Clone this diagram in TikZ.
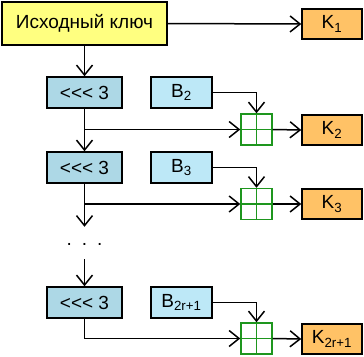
\documentclass[tikz,border=0pt]{standalone}
\usepackage{fontspec}
\setmainfont{Liberation Sans}[Ligatures=TeXOff]
\usetikzlibrary{arrows.meta}

\definecolor{srcyellow}{HTML}{FFFF80}
\definecolor{rotblue}{HTML}{ADD8E6}
\definecolor{bblue}{HTML}{BDE8F7}
\definecolor{korange}{HTML}{FFC266}
\definecolor{xorgreen}{HTML}{1E961E}

\tikzset{
  box/.style={draw, line width=1.5pt, inner sep=0pt, font=\fontsize{19}{22}\selectfont},
  srcbox/.style={box, fill=srcyellow, minimum width=165pt, minimum height=43pt},
  rotbox/.style={box, fill=rotblue, minimum width=75pt, minimum height=31pt},
  bbox/.style={box, fill=bblue, minimum width=61pt, minimum height=31pt},
  kbox/.style={box, fill=korange, minimum width=60pt, minimum height=30pt},
  xorbox/.style={draw=xorgreen, line width=1.4pt, fill=white, minimum size=31pt, inner sep=0pt,
    path picture={\draw[xorgreen, line width=1.4pt] (path picture bounding box.north) -- (path picture bounding box.south)
      (path picture bounding box.west) -- (path picture bounding box.east);}},
  arr/.style={line width=1.5pt, -{Straight Barb[length=10pt,width=16pt,line width=1.5pt]}}
}

\begin{document}
\begin{tikzpicture}[x=1pt,y=-1pt]
  \def\xr{84.5}
  \def\xb{181.5}
  \def\xx{256.5}
  \def\xk{332}
  \useasboundingbox (0,0) rectangle (364,356);

  \node [srcbox] (src) at (\xr, 23.5) {Исходный ключ};
  \node [kbox] (k1) at (\xk, 24) {K\textsubscript{1}};

  \node [rotbox] (rot1) at (\xr, 92.5) {<<< 3};
  \node [bbox] (b2) at (\xb, 92.5) {B\textsubscript{2}};
  \node [xorbox] (x2) at (\xx, 129.5) {};
  \node [kbox] (k2) at (\xk, 130) {K\textsubscript{2}};

  \node [rotbox] (rot2) at (\xr, 167.5) {<<< 3};
  \node [bbox] (b3) at (\xb, 167.5) {B\textsubscript{3}};
  \node [xorbox] (x3) at (\xx, 204) {};
  \node [kbox] (k3) at (\xk, 204) {K\textsubscript{3}};

  \node [inner sep=0pt, minimum height=32pt, font=\fontsize{19}{22}\selectfont] (dots) at (\xr, 243) {\raisebox{-4pt}{.\hspace{10pt}.\hspace{10pt}.}};

  \node [rotbox] (rot3) at (\xr, 302.5) {<<< 3};
  \node [bbox] (b4) at (\xb, 302.5) {B\textsubscript{2r+1}};
  \node [xorbox] (x4) at (\xx, 338.5) {};
  \node [kbox] (k4) at (\xk, 339) {K\textsubscript{2r+1}};

  \draw [arr](src.east)--(k1.west);
  \draw [arr](src.south)--(rot1.north);

  \draw [arr](rot1.south)--(rot2.north);
  \draw [arr](rot1.south |- x2.west)--(x2.west);
  \draw [arr](b2.east)-|(x2.north);
  \draw [arr](x2.east)--(k2.west);

  \draw [arr](rot2.south)--(dots.north);
  \draw [arr](rot2.south |- x3.west)--(x3.west);
  \draw [arr](b3.east)-|(x3.north);
  \draw [arr](x3.east)--(k3.west);

  \draw [arr](dots.south)--(rot3.north);
  \draw [arr](rot3.south)|-(x4.west);
  \draw [arr](b4.east)-|(x4.north);
  \draw [arr](x4.east)--(k4.west);

\end{tikzpicture}
\end{document}
